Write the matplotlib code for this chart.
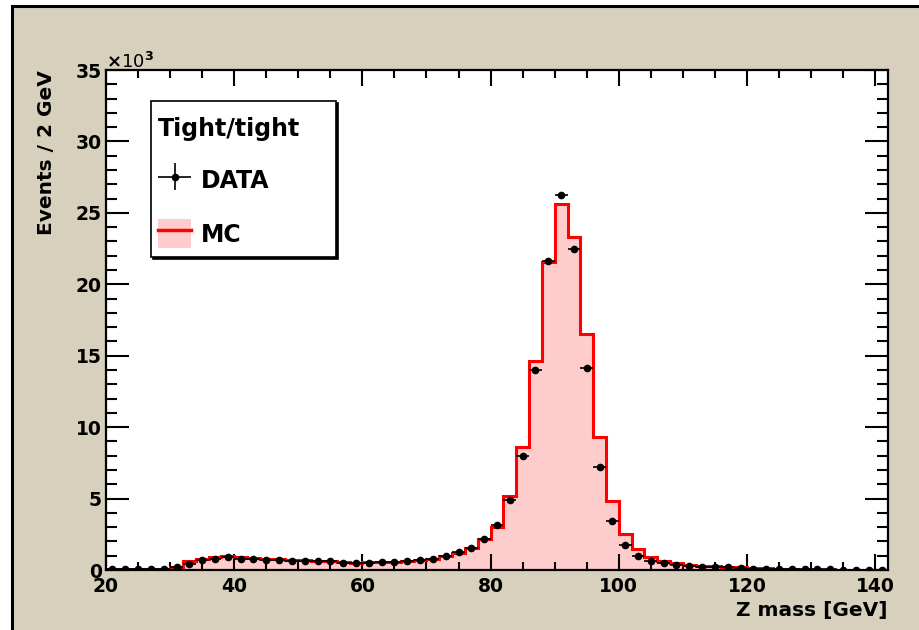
import matplotlib
matplotlib.use("Agg")
import matplotlib.pyplot as plt
from matplotlib.patches import Rectangle, Patch
from matplotlib.lines import Line2D
from matplotlib.legend_handler import HandlerErrorbar
from matplotlib.container import ErrorbarContainer
import numpy as np

plt.rcParams['font.family'] = ['DejaVu Sans']
plt.rcParams['font.weight'] = 'bold'

# data points (x10^3 events per 2 GeV), bin centres 21 ... 141
data_x = np.arange(21, 142, 2)
data_y = [0.05, 0.05, 0.05, 0.05, 0.07, 0.19, 0.42, 0.70, 0.80, 0.89,
          0.80, 0.80, 0.72, 0.70, 0.63, 0.66, 0.61, 0.61, 0.52, 0.52,
          0.47, 0.58, 0.54, 0.61, 0.70, 0.77, 0.98, 1.24, 1.52, 2.18,
          3.12, 4.87, 7.96, 14.03, 21.6, 26.25, 22.44, 14.12, 7.2, 3.4,
          1.74, 0.99, 0.63, 0.47, 0.35, 0.28, 0.23, 0.21, 0.19, 0.17,
          0.09, 0.07, 0.06, 0.05, 0.05, 0.04, 0.04, 0.03, 0.03, 0.03, 0.03]

# MC histogram, bin edges 20 ... 128
mc_edges = np.arange(20, 129, 2)
mc_y = [0.08, 0.08, 0.08, 0.08, 0.10, 0.20, 0.60, 0.77, 0.94, 0.98,
        0.94, 0.84, 0.80, 0.77, 0.70, 0.70, 0.65, 0.63, 0.54, 0.52,
        0.54, 0.56, 0.56, 0.63, 0.70, 0.80, 0.98, 1.22, 1.52, 2.15,
        3.04, 5.15, 8.6, 14.64, 21.55, 25.65, 23.3, 16.5, 9.32, 4.8,
        2.5, 1.45, 0.89, 0.63, 0.47, 0.37, 0.30, 0.26, 0.23, 0.19,
        0.14, 0.12, 0.09, 0.09]

data_y = np.array(data_y)
data_err = np.sqrt(data_y * 1000) / 1000

fig = plt.figure(figsize=(9.2, 6.3), dpi=100)
fig.patch.set_facecolor('white')
# beige canvas with black frame (ROOT style)
fig.patches.append(Rectangle((12.5 / 920, -0.1), 1.2, 1.1 - 6.5 / 630,
                             transform=fig.transFigure, facecolor='#d6d0bd',
                             edgecolor='black', lw=2.2, zorder=-10))

ax = fig.add_axes([106 / 920, 60 / 630, 782 / 920, 500 / 630])
ax.set_facecolor('white')

ax.stairs(mc_y, mc_edges, fill=True, color='#ffcccc', zorder=1)
ax.stairs(mc_y, mc_edges, color='#ff0000', lw=2.2, zorder=2)
eb = ax.errorbar(data_x, data_y, xerr=1, yerr=data_err, fmt='o', color='black',
                 ms=4.5, elinewidth=1.2, capsize=0, zorder=3)

ax.set_xlim(20, 142)
ax.set_ylim(0, 35)
ax.set_xticks(np.arange(20, 141, 20))
ax.set_xticks(np.arange(20, 142, 5), minor=True)
ax.set_yticks(np.arange(0, 36, 5))
ax.set_yticks(np.arange(0, 36, 1), minor=True)

ax.tick_params(which='both', direction='in', top=True, right=True, width=1.5,
               labelsize=13.5)
ax.tick_params(axis='x', which='major', length=11.5, pad=5)
ax.tick_params(axis='x', which='minor', length=5.8)
ax.tick_params(axis='y', which='major', length=16.5, pad=3)
ax.tick_params(axis='y', which='minor', length=8)
for s in ax.spines.values():
    s.set_linewidth(1.6)

ax.set_xlabel('Z mass [GeV]', fontsize=14.5, fontweight='bold', loc='right')
ax.xaxis.set_label_coords(1.0, -0.062)
ax.set_ylabel('Events / 2 GeV', fontsize=14.5, fontweight='bold', loc='top')
ax.yaxis.set_label_coords(-0.064, 1.0)

ax.text(0.0, 1.004, r'$\times$10$^{3}$', transform=ax.transAxes, fontsize=13,
        fontweight='normal', ha='left', va='baseline')

# legend box with shadow (ROOT TLegend look)
box_x0, box_y0, box_w, box_h = 0.0575, 0.626, 0.2366, 0.312
ax.add_patch(Rectangle((box_x0 + 0.003, box_y0 - 0.004), box_w, box_h,
                       transform=ax.transAxes, facecolor='black',
                       edgecolor='black', lw=1.2, zorder=5))
ax.add_patch(Rectangle((box_x0, box_y0), box_w, box_h, transform=ax.transAxes,
                       facecolor='white', edgecolor='black', lw=1.2, zorder=6))

mc_handle = (Patch(facecolor='#ffcccc', edgecolor='none'),
             Line2D([], [], color='#ff0000', lw=2.5))
leg = ax.legend([eb, mc_handle], ['DATA', 'MC'], title='Tight/tight',
                loc='upper left', bbox_to_anchor=(0.0665, 0.906),
                borderaxespad=0, frameon=False, prop={'size': 17, 'weight': 'bold'},
                title_fontproperties={'size': 17, 'weight': 'bold'},
                alignment='left', handlelength=1.4, handleheight=1.5,
                labelspacing=1.05, handletextpad=0.4, borderpad=0,
                handler_map={ErrorbarContainer: HandlerErrorbar(xerr_size=0.7, yerr_size=0.57)})
leg.set_zorder(7)

fig.savefig('out.png', dpi=100)
